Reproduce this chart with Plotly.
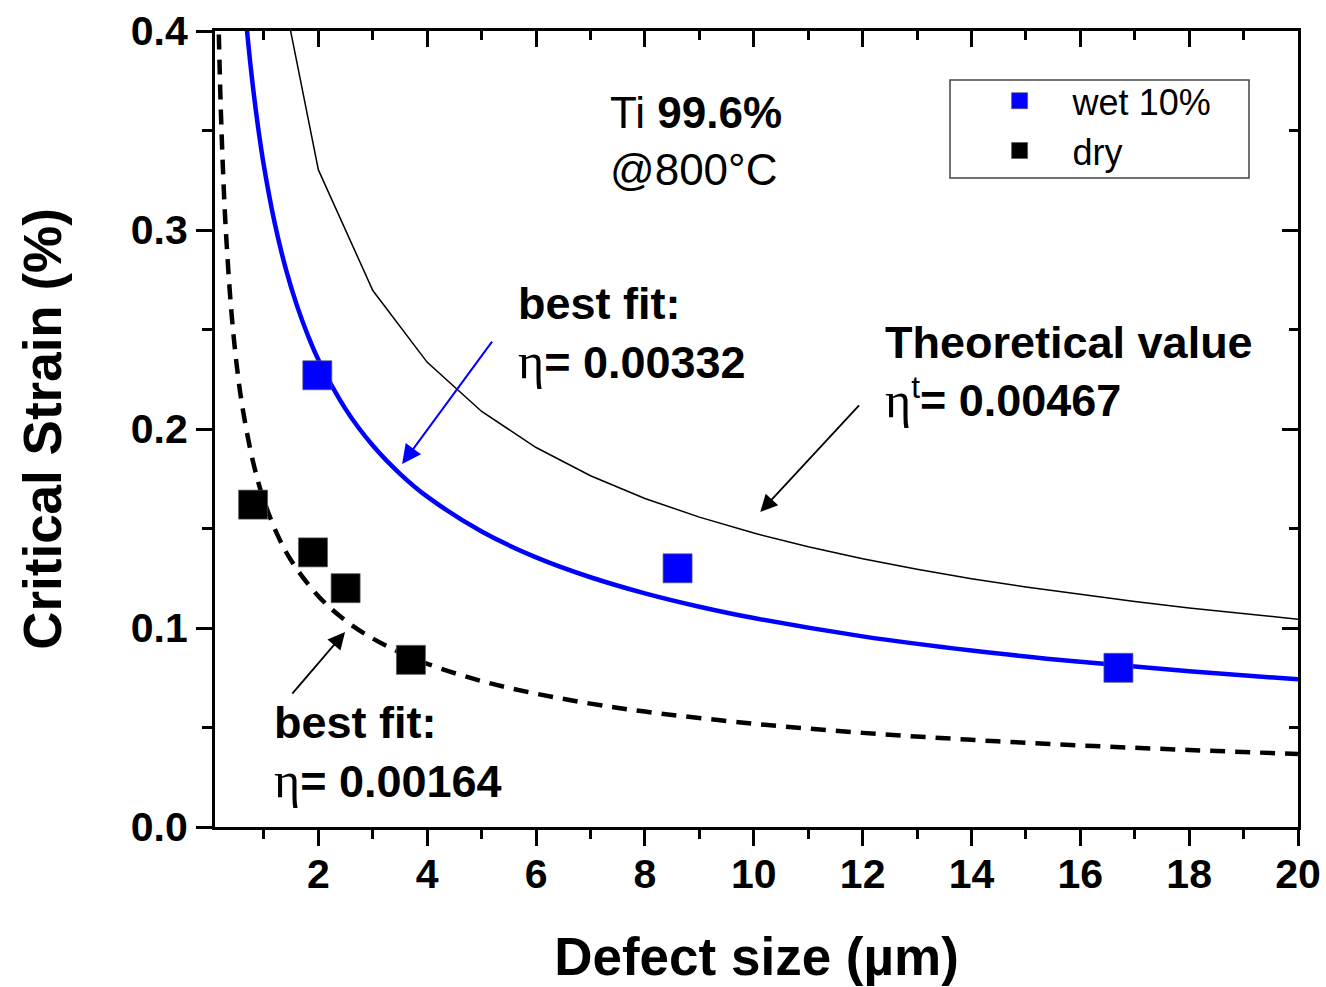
import plotly.graph_objects as go

# ---------------- data ----------------
wet_x = [1.98, 8.60, 16.70]
wet_y = [0.227, 0.130, 0.080]

dry_x = [0.80, 1.90, 2.50, 3.70]
dry_y = [0.162, 0.138, 0.120, 0.084]

# best fit, wet (eta = 0.00332)
fit_wet_x = [0.6, 0.7, 0.8, 0.9, 1.0, 1.2, 1.4, 1.6, 1.8, 2.0, 2.5, 3.0, 3.5, 4.0,
             5.0, 6.0, 7.0, 8.0, 9.0, 10.0, 12.0, 14.0, 16.0, 18.0, 20.0]
fit_wet_y = [0.4286, 0.3968, 0.3712, 0.3500, 0.3320, 0.3031, 0.2806, 0.2625, 0.2475,
             0.2348, 0.2100, 0.1917, 0.1775, 0.1660, 0.1485, 0.1355, 0.1255, 0.1174,
             0.1107, 0.1050, 0.0958, 0.0887, 0.0830, 0.0783, 0.0742]

# best fit, dry (eta = 0.00164)
fit_dry_x = [0.15, 0.2, 0.25, 0.3, 0.4, 0.5, 0.6, 0.8, 1.0, 1.25, 1.5, 2.0, 2.5, 3.0,
             3.5, 4.0, 5.0, 6.0, 7.0, 8.0, 10.0, 12.0, 14.0, 16.0, 18.0, 20.0]
fit_dry_y = [0.4234, 0.3667, 0.3280, 0.2994, 0.2593, 0.2319, 0.2117, 0.1834, 0.1640,
             0.1467, 0.1339, 0.1160, 0.1037, 0.0947, 0.0877, 0.0820, 0.0733, 0.0670,
             0.0620, 0.0580, 0.0519, 0.0473, 0.0438, 0.0410, 0.0387, 0.0367]

# theoretical value (eta_t = 0.00467), drawn as a polyline at integer sizes
theo_x = [1, 2, 3, 4, 5, 6, 7, 8, 9, 10, 11, 12, 13, 14, 15, 16, 17, 18, 19, 20]
theo_y = [0.4670, 0.3302, 0.2696, 0.2335, 0.2088, 0.1907, 0.1765, 0.1651, 0.1557,
          0.1477, 0.1408, 0.1348, 0.1295, 0.1248, 0.1206, 0.1168, 0.1133, 0.1101,
          0.1071, 0.1044]

x_range = [0.1, 20]
y_range = [0.0, 0.4]

FONT = "Liberation Sans, Arial, sans-serif"
BLUE = "rgb(0,0,255)"

fig = go.Figure()

fig.add_trace(go.Scatter(x=fit_dry_x, y=fit_dry_y, mode="lines", showlegend=False,
                         line=dict(color="black", width=4.5, dash="15px,10px", shape="spline"),
                         hoverinfo="skip"))
fig.add_trace(go.Scatter(x=fit_wet_x, y=fit_wet_y, mode="lines", showlegend=False,
                         line=dict(color=BLUE, width=4.5, shape="spline"),
                         hoverinfo="skip"))
fig.add_trace(go.Scatter(x=wet_x, y=wet_y, mode="markers", name="wet 10%",
                         marker=dict(symbol="square", size=29, color=BLUE,
                                     line=dict(color="rgba(90,90,120,0.7)", width=1))))
fig.add_trace(go.Scatter(x=dry_x, y=dry_y, mode="markers", name="dry",
                         marker=dict(symbol="square", size=29, color="black",
                                     line=dict(color="rgba(90,90,90,0.7)", width=1))))
# theoretical curve on the mirrored (top/right) axes pair
fig.add_trace(go.Scatter(x=theo_x, y=theo_y, mode="lines", showlegend=False,
                         xaxis="x2", yaxis="y2",
                         line=dict(color="black", width=1.5), hoverinfo="skip"))

tick_font = dict(family=FONT, size=41, color="black", weight="bold")
axis_common = dict(showgrid=False, zeroline=False, showline=True, linecolor="black",
                   linewidth=3, tickcolor="black", tickwidth=3, automargin=False)

fig.update_layout(
    width=1326, height=987,
    margin=dict(l=215, r=28, t=31, b=160),
    paper_bgcolor="white", plot_bgcolor="white",
    font=dict(family=FONT, color="black"),
    xaxis=dict(range=x_range, tickmode="linear", tick0=0, dtick=2,
               ticks="outside", ticklen=16, tickfont=tick_font, ticklabelstandoff=-7,
               minor=dict(dtick=1, tick0=0, ticks="outside", ticklen=9,
                          tickwidth=3, tickcolor="black", showgrid=False),
               title=dict(text="Defect size (µm)",
                          font=dict(family=FONT, size=53, weight="bold"),
                          standoff=42),
               **axis_common),
    yaxis=dict(range=y_range, tickmode="linear", tick0=0, dtick=0.1, tickformat=".1f",
               ticks="outside", ticklen=16, tickfont=tick_font,
               minor=dict(dtick=0.05, tick0=0, ticks="outside", ticklen=10,
                          tickwidth=3, tickcolor="black", showgrid=False),
               title=dict(text="Critical Strain (%)",
                          font=dict(family=FONT, size=53, weight="bold"),
                          standoff=53),
               **axis_common),
    xaxis2=dict(overlaying="x", side="top", matches="x", range=x_range,
                tickmode="linear", tick0=0, dtick=2, ticks="inside", ticklen=16,
                showticklabels=False,
                minor=dict(dtick=1, tick0=0, ticks="inside", ticklen=9,
                           tickwidth=3, tickcolor="black", showgrid=False),
                **axis_common),
    yaxis2=dict(overlaying="y", side="right", matches="y", range=y_range,
                tickmode="linear", tick0=0, dtick=0.1, ticks="inside", ticklen=16,
                showticklabels=False,
                minor=dict(dtick=0.05, tick0=0, ticks="inside", ticklen=9,
                           tickwidth=3, tickcolor="black", showgrid=False),
                **axis_common),
    legend=dict(x=0.694, y=0.95, xanchor="left", yanchor="top",
                bgcolor="rgba(0,0,0,0)", borderwidth=0,
                font=dict(family=FONT, size=36, color="black"),
                itemwidth=96, tracegroupgap=0),
)

# legend frame
fig.add_shape(type="rect", xref="paper", yref="paper",
              x0=(950 - 215) / 1083, x1=(1249 - 215) / 1083,
              y0=1 - (178 - 31) / 796, y1=1 - (80 - 31) / 796,
              line=dict(color="#444", width=1.5), fillcolor="rgba(0,0,0,0)", layer="above")

eta = "<span style=\"font-family:'Liberation Serif'; font-weight:normal; font-size:50px\">η</span>"
ann_font = dict(family=FONT, size=45, color="black")

fig.add_annotation(x=7.325, y=0.3445, xref="x", yref="y", xanchor="left", yanchor="middle",
                   showarrow=False, align="left", font=dict(family=FONT, size=44, color="black"),
                   text="Ti <b>99.6%</b><br>@800°C")
fig.add_annotation(x=5.63, y=0.2482, xref="x", yref="y", xanchor="left", yanchor="middle",
                   showarrow=False, align="left", font=ann_font,
                   text="<b>best fit:</b><br>" + eta + "<b>= 0.00332</b>")
fig.add_annotation(x=12.38, y=0.2286, xref="x", yref="y", xanchor="left", yanchor="middle",
                   showarrow=False, align="left", font=ann_font,
                   text="<b>Theoretical value</b><br>" + eta + "<sup>t</sup><b>= 0.00467</b>")
fig.add_annotation(x=1.148, y=0.0372, xref="x", yref="y", xanchor="left", yanchor="middle",
                   showarrow=False, align="left", font=ann_font,
                   text="<b>best fit:</b><br>" + eta + "<b>= 0.00164</b>")

# arrows (head at x,y ; tail at ax,ay)
arrows = [
    dict(x=3.538, y=0.1824, ax=5.211, ay=0.2447, color=BLUE, w=2),
    dict(x=10.12, y=0.1583, ax=11.96, ay=0.2126, color="black", w=1.8),
    dict(x=2.49, y=0.0980, ax=1.497, ay=0.0663, color="black", w=1.8),
]
for a in arrows:
    fig.add_annotation(x=a["x"], y=a["y"], ax=a["ax"], ay=a["ay"], xref="x", yref="y",
                       axref="x", ayref="y", text="", showarrow=True, arrowhead=2,
                       arrowsize=1.9, arrowwidth=a["w"], arrowcolor=a["color"], standoff=0)

fig.write_html("out.html")
